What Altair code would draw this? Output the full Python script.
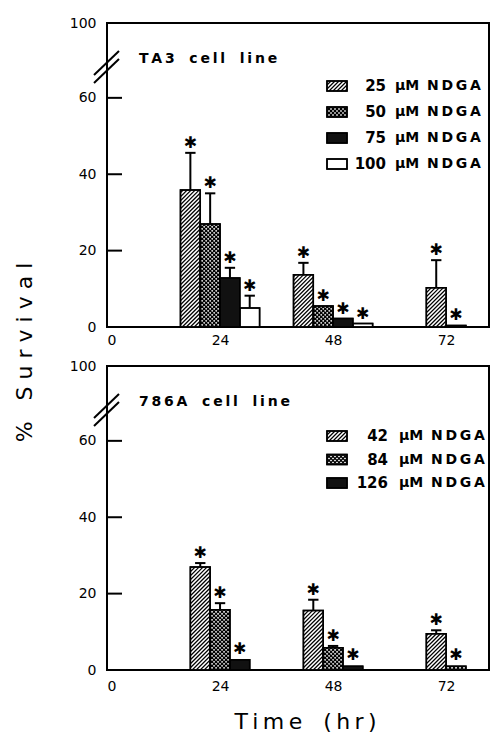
import altair as alt
import pandas as pd

# ---------------- data ----------------
times = [24, 48, 72]

ta3_conc = ["25", "50", "75", "100"]
ta3_mean = [[35.9, 13.7, 10.3], [27.0, 5.5, 0.4], [12.8, 2.2, None], [5.0, 0.9, None]]
ta3_upper = [[45.6, 16.8, 17.5], [35.0, 5.5, 0.4], [15.5, 2.2, None], [8.2, 0.9, None]]

a786_conc = ["42", "84", "126"]
a786_mean = [[27.0, 15.6, 9.5], [15.8, 5.8, 1.0], [2.7, 1.0, None]]
a786_upper = [[28.0, 18.4, 10.4], [17.5, 6.3, 1.2], [3.0, 1.2, None]]

NB = "\u00a0"
THIN = "\u2009"
unit_label = f"μM{NB}{THIN}N{THIN}D{THIN}G{THIN}A"
x_ticks = [0, 24, 48, 72]
y_ticks = [20, 40, 60]
y_axis_values = [0, 20, 40, 60, 79.6]

# ---------------- layout / style constants ----------------
BW = 4.2       # bar width in hours
W, H = 382, 304
XMAX = W / 4.71
YMAX = 79.6
KX = W / XMAX   # px per hour
KY = H / YMAX   # px per % unit
S = 4.0         # hatch spacing (px)
FONT = "DejaVu Sans"


def rows(conc, means, uppers):
    out = []
    for i, c in enumerate(conc):
        for j, t in enumerate(times):
            m = means[i][j]
            if m is None:
                continue
            out.append({"time": t, "conc": c, "idx": i, "mean": m, "upper": uppers[i][j]})
    return pd.DataFrame(out)


def hatch(base):
    return base.transform_filter("datum.idx <= 1").transform_calculate(
        wp=f"(datum.xr - datum.xl) * {KX}",
        hp=f"(datum.yt - datum.yb) * {KY}",
        ks="sequence(0, 70)",
        dirs="datum.idx == 1 ? [0, 1] : [0]",
    ).transform_flatten(["ks"]).transform_flatten(["dirs"]).transform_calculate(
        c=f"-datum.wp + (datum.ks + 0.5) * {S}",
    ).transform_calculate(
        u0="max(0, -datum.c)",
        u1="min(datum.wp, datum.hp - datum.c)",
    ).transform_filter("datum.u1 > datum.u0 + 0.3").transform_calculate(
        hx1=f"datum.dirs == 0 ? datum.xl + datum.u0 / {KX} : datum.xr - datum.u0 / {KX}",
        hx2=f"datum.dirs == 0 ? datum.xl + datum.u1 / {KX} : datum.xr - datum.u1 / {KX}",
        hy1=f"datum.yb + (datum.u0 + datum.c) / {KY}",
        hy2=f"datum.yb + (datum.u1 + datum.c) / {KY}",
    ).mark_rule(strokeWidth=1.2, color="black").encode(
        x="hx1:Q", x2="hx2:Q", y="hy1:Q", y2="hy2:Q")


def panel(df, conc, label, leg_top, leg_step, num_right, unit_left, first):
    xs = alt.Scale(domain=[0, XMAX], nice=False, zero=False)
    ys = alt.Scale(domain=[0, YMAX], nice=False)
    xaxis = alt.Axis(values=x_ticks, ticks=False, domain=False, grid=False,
                     labelFontSize=14, labelPadding=6 if first else 9,
                     labelFont=FONT, labelColor="black",
                     title=None if first else f"T{THIN}i{THIN}m{THIN}e{NB}{NB}{NB}({THIN}h{THIN}r{THIN})",
                     titleFontSize=22, titleFont=FONT, titleFontWeight="normal",
                     titleX=198, titleY=58, titleAlign="center",
                     titleBaseline="alphabetic", titleColor="black")
    yaxis = alt.Axis(values=y_axis_values, ticks=False, domain=False, grid=False,
                     labelExpr="datum.value > 70 ? '100' : datum.label",
                     labelFontSize=14, labelPadding=11, labelFont=FONT,
                     labelColor="black",
                     title=f"%{NB}{NB}{NB}S u r v i v a l" if first else None,
                     titleFontSize=22, titleFont=FONT, titleFontWeight="normal",
                     titleX=-83, titleY=329, titleAlign="center",
                     titleBaseline="middle", titleAngle=-90, titleColor="black")

    base = alt.Chart(df).transform_joinaggregate(
        n="count()", groupby=["time"]
    ).transform_calculate(
        xl=f"datum.time + (datum.idx - datum.n / 2) * {BW}",
        xr=f"datum.time + (datum.idx - datum.n / 2 + 1) * {BW}",
        xc=f"datum.time + (datum.idx - datum.n / 2 + 0.5) * {BW}",
        cl=f"datum.time + (datum.idx - datum.n / 2 + 0.5) * {BW} - 1.1",
        cr=f"datum.time + (datum.idx - datum.n / 2 + 0.5) * {BW} + 1.1",
        yb="0",
        yt="datum.mean",
        fc="datum.idx == 2 ? '#111111' : '#ffffff'",
    )

    bars = base.mark_rect(stroke="black", strokeWidth=1.5).encode(
        x=alt.X("xl:Q", scale=xs, axis=xaxis),
        x2="xr:Q",
        y=alt.Y("mean:Q", scale=ys, axis=yaxis),
        y2=alt.datum(0),
        fill=alt.Fill("fc:N", scale=None),
    )
    bar_hatch = hatch(base)
    outline = base.mark_rect(stroke="black", strokeWidth=1.5, fillOpacity=0).encode(
        x="xl:Q", x2="xr:Q", y="mean:Q", y2=alt.datum(0))
    errs = base.transform_filter("datum.upper > datum.mean + 0.3").mark_rule(
        color="black", strokeWidth=2).encode(x="xc:Q", y="mean:Q", y2="upper:Q")
    caps = base.transform_filter("datum.upper > datum.mean + 0.3").mark_rule(
        color="black", strokeWidth=2).encode(x="cl:Q", x2="cr:Q", y="upper:Q")
    stars = base.mark_text(text="✱", fontSize=16, font=FONT, color="black",
                           dy=-10, baseline="middle").encode(x="xc:Q", y="upper:Q")

    # custom legend (swatches drawn with the same fills / hatching)
    leg_df = pd.DataFrame({"conc": conc, "idx": list(range(len(conc)))})
    leg = alt.Chart(leg_df).transform_calculate(
        unit=f"'{unit_label}'",
        cy=f"{leg_top} + datum.idx * {leg_step}",
    ).transform_calculate(
        xl=f"220 / {KX}",
        xr=f"240 / {KX}",
        yt=f"{YMAX} - (datum.cy - 5) / {KY}",
        yb=f"{YMAX} - (datum.cy + 5) / {KY}",
        ty=f"{YMAX} - datum.cy / {KY}",
        nx=f"{num_right} / {KX}",
        ux=f"{unit_left} / {KX}",
        fc="datum.idx == 2 ? '#111111' : '#ffffff'",
    )
    leg_rect = leg.mark_rect(stroke="black", strokeWidth=1.5).encode(
        x="xl:Q", x2="xr:Q", y="yb:Q", y2="yt:Q", fill=alt.Fill("fc:N", scale=None))
    leg_hatch = hatch(leg)
    leg_outline = leg.mark_rect(stroke="black", strokeWidth=1.5, fillOpacity=0).encode(
        x="xl:Q", x2="xr:Q", y="yb:Q", y2="yt:Q")
    leg_num = leg.mark_text(align="right", baseline="middle", fontSize=15, font=FONT,
                            fontWeight="bold", color="black").encode(
        x="nx:Q", y="ty:Q", text="conc:N")
    leg_unit = leg.mark_text(align="left", baseline="middle", fontSize=14, font=FONT,
                             fontWeight="bold", color="black").encode(
        x="ux:Q", y="ty:Q", text="unit:N")

    ticks = alt.Chart(pd.DataFrame({"v": y_ticks})).mark_rule(
        color="black", strokeWidth=2).encode(y="v:Q", x=alt.value(0), x2=alt.value(15))
    one = pd.DataFrame({"t": [label]})
    lab = alt.Chart(one).mark_text(align="left", baseline="middle", fontSize=14,
                                   fontWeight="bold", font=FONT, color="black").encode(
        text="t:N", x=alt.value(32), y=alt.value(36))
    brk1 = alt.Chart(one).mark_rule(color="black", strokeWidth=2).encode(
        x=alt.value(-13), x2=alt.value(12), y=alt.value(52), y2=alt.value(28))
    brk2 = alt.Chart(one).mark_rule(color="black", strokeWidth=2).encode(
        x=alt.value(-13), x2=alt.value(12), y=alt.value(60), y2=alt.value(36))

    return alt.layer(bars, bar_hatch, outline, errs, caps, stars,
                     leg_rect, leg_hatch, leg_outline, leg_num, leg_unit,
                     ticks, lab, brk1, brk2).properties(width=W, height=H)


def spaced(text):
    return (NB * 3).join(THIN.join(w) for w in text.split(" "))


top = panel(rows(ta3_conc, ta3_mean, ta3_upper), ta3_conc, spaced("TA3 cell line"),
            63, 26, 279, 288, True)
bottom = panel(rows(a786_conc, a786_mean, a786_upper), a786_conc, spaced("786A cell line"),
               70, 23.5, 281, 292, False)

chart = alt.vconcat(top, bottom, spacing=39, bounds="flush").properties(
    padding={"left": 4, "top": 7, "right": 0, "bottom": 0},
    background="white",
).configure_view(stroke="black", strokeWidth=2)

chart.save("out.html", embed_options={"renderer": "svg", "actions": False})
